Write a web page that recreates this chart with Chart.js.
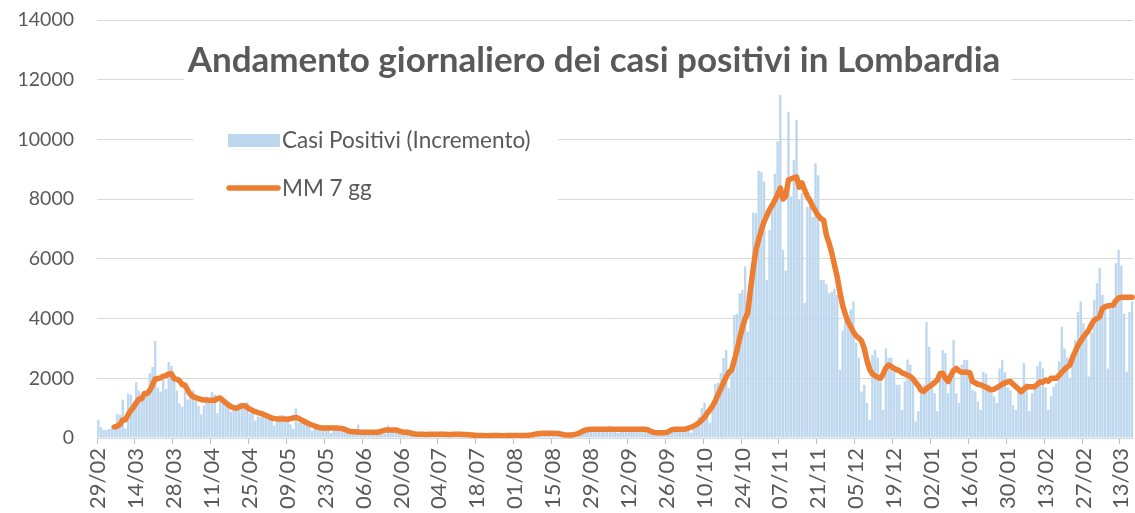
<!DOCTYPE html>
<html>
<head>
<meta charset="utf-8">
<title>Casi positivi Lombardia</title>
<script src="https://cdn.jsdelivr.net/npm/chart.js"></script>
<style>
  html, body { margin: 0; padding: 0; background: #fff; }
</style>
</head>
<body>
<canvas id="casiChart" width="1135" height="513"></canvas>
<script>
const titolo = 'Andamento giornaliero dei casi positivi in Lombardia';
const primoGiorno = [2020, 1, 29]; // 29/02/2020

const tickLabels = ['29/02', '14/03', '28/03', '11/04', '25/04', '09/05', '23/05', '06/06', '20/06', '04/07',
  '18/07', '01/08', '15/08', '29/08', '12/09', '26/09', '10/10', '24/10', '07/11', '21/11', '05/12', '19/12',
  '02/01', '16/01', '30/01', '13/02', '27/02', '13/03'];

// incremento giornaliero dei casi positivi
const casiPositivi = [
  615, 369, 270, 266, 300, 431, 361, 808, 769, 1280, 322, 1489, 1445, 1095,
  1865, 1587, 1377, 1571, 1493, 2171, 2380, 3251, 1691, 1555, 1942, 1643, 2543, 2409,
  2117, 1592, 1154, 1047, 1565, 1292, 1455, 1598, 1337, 1079, 791, 1089, 1388, 1246,
  1544, 1460, 827, 1264, 1239, 1219, 1091, 880, 1073, 960, 1161, 1036, 1168, 1202,
  830, 869, 590, 720, 700, 760, 690, 620, 600, 420, 560, 760, 770, 570,
  660, 460, 310, 1000, 520, 520, 480, 420, 420, 240, 400, 460, 400, 280,
  390, 380, 170, 250, 380, 320, 380, 380, 210, 210, 160, 200, 450, 170,
  150, 100, 140, 200, 170, 260, 190, 130, 140, 420, 250, 300, 280, 300,
  200, 90, 110, 140, 110, 130, 130, 90, 80, 130, 140, 110, 120, 140,
  150, 120, 60, 110, 130, 100, 110, 120, 110, 80, 130, 140, 70, 60,
  90, 80, 40, 80, 60, 80, 90, 90, 80, 60, 70, 80, 90, 70,
  60, 80, 70, 100, 120, 180, 100, 150, 170, 160, 140, 170, 180, 130,
  140, 150, 90, 70, 110, 60, 110, 120, 140, 130, 180, 220, 190, 300,
  330, 320, 200, 280, 240, 350, 330, 410, 300, 310, 180, 230, 340, 330,
  300, 310, 280, 230, 250, 300, 330, 280, 170, 150, 140, 180, 150, 190,
  240, 170, 240, 300, 320, 290, 330, 310, 360, 180, 400, 420, 715, 1000,
  1180, 840, 500, 1080, 1800, 1850, 2170, 2680, 2950, 1670, 2330, 4125, 4150, 4850,
  4960, 5740, 3560, 5290, 7550, 7540, 8955, 8900, 8590, 5290, 6970, 7760, 8850, 9930,
  11490, 6300, 5600, 10930, 8090, 9300, 10650, 8000, 8200, 4520, 7750, 7750, 7400, 9200,
  8800, 5290, 5290, 5150, 4850, 4900, 5000, 4800, 2280, 3600, 3950, 4000, 4300, 4570,
  3180, 2690, 1550, 1780, 1170, 600, 2780, 2950, 2690, 1890, 940, 3000, 2690, 2690,
  2220, 1780, 1780, 940, 1890, 2630, 2450, 1940, 550, 900, 1500, 1780, 3880, 3060,
  1940, 1500, 900, 2000, 2950, 2840, 1500, 2330, 3280, 1500, 1170, 2450, 2610, 2610,
  1940, 1610, 1560, 1220, 940, 2220, 2150, 1780, 1500, 1390, 1170, 2330, 2610, 2200,
  1700, 1600, 1100, 940, 1720, 1650, 2500, 1830, 900, 1500, 1720, 2410, 2560, 2330,
  1700, 940, 1400, 1720, 1830, 2560, 3730, 3000, 2700, 2000, 2800, 3280, 4230, 4570,
  3840, 3530, 2060, 3530, 4620, 5180, 5690, 4800, 4500, 2330, 4330, 4630, 5850, 6300,
  5780, 4170, 2220, 4230, 4570
];

// media mobile a 7 giorni (MM 7 gg)
const mediaMobile = [
  null, null, null, null, null, null, 373, 401, 458, 602, 610, 780, 925, 1030,
  1181, 1298, 1311, 1490, 1490, 1594, 1778, 1976, 1991, 2016, 2069, 2090, 2144, 2148,
  1986, 1972, 1914, 1786, 1775, 1597, 1460, 1386, 1350, 1320, 1290, 1270, 1270, 1265,
  1265, 1260, 1320, 1340, 1260, 1190, 1110, 1050, 1010, 1000, 1040, 1080, 1080, 1030,
  960, 920, 880, 850, 825, 790, 750, 710, 670, 650, 640, 640, 640, 635,
  630, 650, 670, 690, 660, 610, 560, 510, 470, 435, 400, 365, 345, 335,
  335, 335, 335, 335, 335, 330, 320, 290, 250, 220, 212, 210, 205, 195,
  190, 190, 190, 190, 190, 195, 210, 240, 265, 270, 270, 270, 268, 240,
  210, 195, 190, 175, 150, 130, 125, 125, 122, 120, 122, 125, 125, 128,
  128, 125, 122, 120, 120, 122, 125, 125, 122, 118, 115, 110, 100, 90,
  82, 80, 80, 78, 78, 80, 80, 80, 80, 78, 78, 80, 80, 80,
  80, 80, 80, 82, 85, 95, 105, 120, 140, 150, 155, 155, 155, 155,
  155, 155, 150, 130, 110, 100, 100, 100, 120, 140, 180, 230, 270, 285,
  290, 290, 290, 290, 290, 290, 290, 290, 292, 292, 290, 290, 290, 290,
  290, 290, 290, 290, 290, 290, 290, 275, 230, 190, 180, 180, 180, 180,
  185, 230, 280, 290, 290, 290, 295, 300, 330, 360, 400, 450, 520, 600,
  700, 830, 950, 1080, 1250, 1450, 1650, 1850, 2050, 2200, 2280, 2600, 2950, 3350,
  3700, 4000, 4200, 5000, 5700, 6300, 6650, 6970, 7250, 7450, 7650, 7800, 7970, 8150,
  8370, 8000, 8100, 8640, 8680, 8720, 8740, 8400, 8540, 8300, 8090, 7950, 7750, 7600,
  7450, 7350, 7300, 6800, 6530, 6200, 5800, 5400, 4900, 4450, 4150, 3900, 3730, 3550,
  3420, 3350, 3250, 3000, 2600, 2300, 2150, 2080, 2030, 2000, 2150, 2350, 2445, 2400,
  2330, 2290, 2250, 2180, 2150, 2100, 2060, 1980, 1860, 1750, 1600, 1560, 1650, 1720,
  1780, 1850, 1950, 2150, 2170, 2000, 1890, 2100, 2250, 2330, 2250, 2200, 2200, 2200,
  2190, 1890, 1850, 1800, 1780, 1740, 1700, 1650, 1610, 1640, 1690, 1740, 1800, 1850,
  1880, 1890, 1800, 1720, 1640, 1550, 1640, 1720, 1720, 1720, 1720, 1800, 1880, 1870,
  1940, 1900, 2000, 2000, 2000, 2100, 2200, 2300, 2380, 2445, 2700, 2900, 3100, 3250,
  3390, 3500, 3620, 3800, 3950, 4000, 4060, 4340, 4400, 4420, 4440, 4450, 4600, 4690,
  4710, 4710, 4710, 4710, 4710
];

// una categoria per giorno, a partire dal 29/02/2020
const giorni = casiPositivi.map((v, i) => {
  const d = new Date(Date.UTC(primoGiorno[0], primoGiorno[1], primoGiorno[2] + i));
  return String(d.getUTCDate()).padStart(2, '0') + '/' + String(d.getUTCMonth() + 1).padStart(2, '0');
});

const grigio = '#595959';

// titolo e legenda sovrapposti all'area del grafico, come nell'originale
const sovrapposizioni = {
  id: 'sovrapposizioni',
  beforeDatasetsDraw(chart) {
    const c = chart.ctx;
    const ds = chart.data.datasets;
    c.save();
    c.fillStyle = '#ffffff';
    c.fillRect(184, 36, 828, 52);
    c.fillRect(193, 110, 365, 105);

    c.fillStyle = grigio;
    c.font = 'bold 35px Lato';
    c.textAlign = 'center';
    c.textBaseline = 'middle';
    c.fillText(titolo, 594, 61);

    c.font = '22.5px Lato';
    c.textAlign = 'left';
    c.fillStyle = ds[1].backgroundColor;
    c.fillRect(228, 134, 52, 13);
    c.fillStyle = grigio;
    c.fillText(ds[1].label, 282, 141);

    c.strokeStyle = ds[0].borderColor;
    c.lineWidth = 5.5;
    c.lineCap = 'round';
    c.beginPath();
    c.moveTo(229, 188);
    c.lineTo(278, 188);
    c.stroke();
    c.fillText(ds[0].label, 282, 189);
    c.restore();
  }
};

Chart.defaults.font.family = 'Lato';

new Chart(document.getElementById('casiChart'), {
  type: 'bar',
  data: {
    labels: giorni,
    datasets: [
      {
        type: 'line',
        label: 'MM 7 gg',
        data: mediaMobile,
        borderColor: '#ed7d31',
        borderWidth: 5.5,
        pointRadius: 0,
        tension: 0,
        borderJoinStyle: 'round',
        borderCapStyle: 'round',
        order: 0
      },
      {
        type: 'bar',
        label: 'Casi Positivi (Incremento)',
        data: casiPositivi,
        backgroundColor: '#bdd7ee',
        barPercentage: 0.88,
        categoryPercentage: 1,
        order: 1
      }
    ]
  },
  options: {
    responsive: false,
    animation: false,
    devicePixelRatio: 1,
    layout: { padding: { top: 20, right: 1.5, left: 0, bottom: 0 } },
    plugins: {
      legend: { display: false },
      title: { display: false },
      tooltip: { enabled: false }
    },
    scales: {
      x: {
        grid: {
          drawOnChartArea: false,
          drawTicks: true,
          tickLength: 6,
          offset: true,
          color: ctx => (ctx.index % 14 === 0 ? '#bfbfbf' : 'rgba(0,0,0,0)')
        },
        border: { display: true, color: '#d9d9d9', width: 1 },
        ticks: {
          autoSkip: false,
          minRotation: 90,
          maxRotation: 90,
          padding: 4,
          color: grigio,
          font: { size: 22 },
          callback: (v, i) => (i % 14 === 0 ? tickLabels[i / 14] : '')
        },
        afterFit: s => { s.height = 75; s.paddingLeft = 0; s.paddingRight = 0; }
      },
      y: {
        min: 0,
        max: 14000,
        ticks: {
          stepSize: 2000,
          padding: 23,
          color: grigio,
          font: { size: 19.5 },
          callback: v => String(v)
        },
        grid: { color: '#d9d9d9', lineWidth: 1, drawTicks: false },
        border: { display: false },
        afterFit: s => { s.width = 97; s.paddingTop = 0; s.paddingBottom = 0; }
      }
    }
  },
  plugins: [sovrapposizioni]
});
</script>
</body>
</html>
